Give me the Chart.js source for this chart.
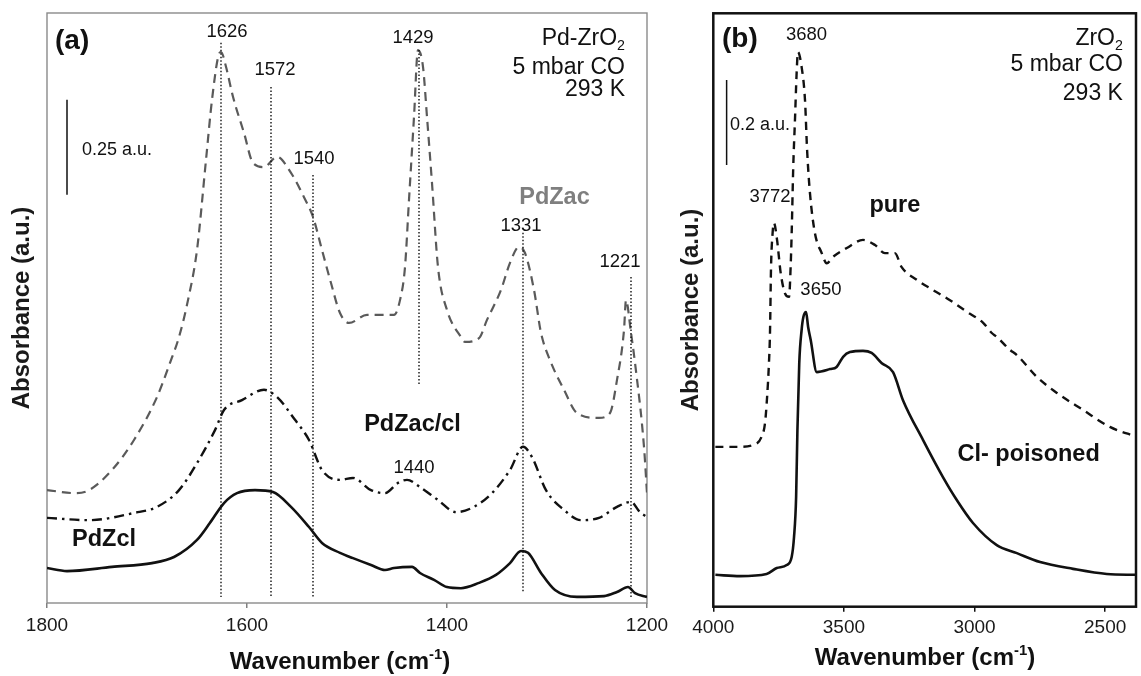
<!DOCTYPE html>
<html><head><meta charset="utf-8">
<script src="https://cdn.jsdelivr.net/npm/chart.js@4.4.1/dist/chart.umd.min.js"></script>
<style>
html,body{margin:0;padding:0;background:#fff;width:1141px;height:676px;overflow:hidden}
canvas{position:absolute;left:0;top:0}
</style>
</head><body>
<canvas id="ca" width="1141" height="676"></canvas>
<canvas id="cb" width="1141" height="676"></canvas>
<script>
// ---------------- DATA ----------------
// Panel (a): Pd-ZrO2, wavenumber (cm-1) and absorbance (a.u.)
const xTicksA = [1800, 1600, 1400, 1200];
const pdzacWn = [1800,1771,1758,1735,1713,1690,1677,1668,1659,1650,
                 1641,1635,1628,1626,1621,1614,1603,1594,1583,1570,
                 1556,1543,1534,1525,1516,1507,1498,1480,1453,1447,
                 1442,1438,1433,1429,1424,1420,1415,1409,1400,1386,
                 1382,1368,1360,1346,1337,1328,1322,1313,1306,1297,
                 1283,1270,1248,1237,1230,1223,1221,1216,1212,1203,
                 1200];
const pdzacAbs = [0.297,0.289,0.297,0.350,0.429,0.542,0.632,0.700,0.797,0.929,
                  1.166,1.324,1.445,1.450,1.411,1.332,1.237,1.158,1.147,1.174,
                  1.132,1.068,1.016,0.929,0.842,0.763,0.737,0.758,0.758,0.797,
                  0.884,1.061,1.279,1.455,1.411,1.279,1.105,0.884,0.771,0.700,
                  0.687,0.697,0.745,0.824,0.895,0.937,0.921,0.824,0.711,0.639,
                  0.561,0.500,0.487,0.500,0.587,0.718,0.797,0.711,0.632,0.411,
                  0.289];
const pdzaccWn = [1800,1758,1713,1690,1668,1650,1632,1623,1605,1583,
                  1570,1552,1538,1525,1507,1494,1476,1462,1449,1440,
                  1427,1409,1391,1373,1355,1337,1324,1315,1301,1283,
                  1266,1248,1230,1216,1207,1200];
const pdzaccAbs = [0.224,0.218,0.237,0.253,0.297,0.368,0.455,0.508,0.534,0.561,
                   0.542,0.482,0.429,0.350,0.324,0.329,0.297,0.289,0.316,0.324,
                   0.305,0.271,0.239,0.253,0.289,0.350,0.411,0.384,0.297,0.245,
                   0.218,0.224,0.253,0.266,0.239,0.226];
const pdzclWn = [1800,1780,1735,1695,1673,1650,1637,1623,1610,1592,
                 1574,1556,1538,1525,1507,1494,1476,1462,1453,1435,
                 1427,1413,1400,1386,1368,1351,1337,1326,1319,1306,
                 1292,1270,1243,1230,1219,1212,1200];
const pdzclAbs = [0.092,0.084,0.095,0.105,0.121,0.166,0.211,0.263,0.289,0.297,
                  0.292,0.253,0.200,0.158,0.132,0.118,0.100,0.087,0.092,0.095,
                  0.079,0.061,0.042,0.039,0.053,0.074,0.105,0.137,0.132,0.079,
                  0.034,0.016,0.018,0.029,0.042,0.026,0.016];
// band marker lines: [wavenumber, top, bottom]
const markLinesA = [[1626,1.474,0.016],[1576,1.358,0.016],[1534,1.126,0.016],
                    [1428,1.455,0.574],[1324,0.974,0.026],[1216,0.858,0.016]];
const scaleBarA = [1780, 1.324, 0.25];   // [wavenumber, top, length a.u.]

// Panel (b): ZrO2
const xTicksB = [4000, 3500, 3000, 2500];
const pureWn = [3992,3910,3848,3815,3802,3794,3787,3783,3779,3773,
                3768,3756,3742,3726,3710,3704,3700,3694,3687,3681,
                3676,3662,3649,3641,3630,3611,3585,3566,3542,3489,
                3427,3381,3343,3305,3279,3221,3159,3094,3030,2967,
                2934,2915,2864,2838,2762,2685,2585,2482,2380];
const pureAbs = [0.376,0.376,0.380,0.400,0.432,0.494,0.573,0.644,0.799,0.879,
                 0.903,0.863,0.785,0.738,0.729,0.799,0.879,1.034,1.152,1.256,
                 1.305,1.270,1.192,1.075,0.973,0.879,0.832,0.808,0.823,0.844,
                 0.863,0.851,0.832,0.832,0.799,0.769,0.745,0.721,0.694,0.668,
                 0.644,0.635,0.604,0.592,0.541,0.503,0.463,0.423,0.400];
const clWn = [3992,3898,3796,3757,3719,3700,3691,3683,3678,3671,
              3662,3655,3645,3637,3627,3604,3553,3528,3503,3477,
              3427,3394,3355,3312,3274,3197,3121,3068,3006,2915,
              2838,2749,2623,2494,2380];
const clAbs = [0.075,0.072,0.077,0.091,0.098,0.117,0.164,0.258,0.416,0.573,
               0.651,0.682,0.693,0.658,0.627,0.552,0.559,0.564,0.588,0.599,
               0.602,0.597,0.573,0.552,0.486,0.392,0.305,0.251,0.197,0.145,
               0.126,0.105,0.089,0.077,0.075];
const scaleBarB = [3949, 1.239, 0.2];

// ---------------- RENDERING ----------------
const FONT = '"Liberation Sans", Arial, Helvetica, sans-serif';
Chart.defaults.font.family = FONT;

function series(wn, ab) { return wn.map((w, i) => ({x: w, y: ab[i]})); }
function vline(w, y1, y2) { return [{x: w, y: y1}, {x: w, y: y2}]; }

function drawRich(ctx, runs, x, y, align, size, weight, color) {
  const fonts = runs.map(r => `${weight} ${r[1] ? size * 0.62 : size}px ${FONT}`);
  const widths = runs.map((r, i) => { ctx.font = fonts[i]; return ctx.measureText(r[0]).width; });
  const total = widths.reduce((a, b) => a + b, 0);
  let cx = align === 'right' ? x - total : (align === 'center' ? x - total / 2 : x);
  ctx.fillStyle = color; ctx.textBaseline = 'middle'; ctx.textAlign = 'left';
  runs.forEach((r, i) => {
    ctx.font = fonts[i];
    const dy = r[1] === 1 ? size * 0.32 : (r[1] === 2 ? -size * 0.3 : 0);
    ctx.fillText(r[0], cx, y + dy);
    cx += widths[i];
  });
}

const xTitleRuns = [['Wavenumber (cm'], ['-1', 2], [')']];

function makeDecor(cfg) {
  return {
    id: 'decor',
    beforeDatasetsDraw(chart) {
      const {ctx, chartArea: a} = chart;
      ctx.save();
      ctx.strokeStyle = cfg.frameColor; ctx.lineWidth = cfg.frameWidth;
      ctx.strokeRect(a.left, a.top, a.right - a.left, a.bottom - a.top);
      ctx.restore();
    },
    afterDraw(chart) {
      const {ctx, scales: {x, y}} = chart;
      ctx.save();
      for (const it of cfg.items) {
        drawRich(ctx, it.runs, x.getPixelForValue(it.x), y.getPixelForValue(it.y),
                 it.align || 'center', it.size, it.weight || 'normal', it.color || '#111');
      }
      drawRich(ctx, xTitleRuns, cfg.titleX, cfg.titleY, 'center', 24, 'bold', '#111');
      ctx.restore();
    }
  };
}

function lineDs(data, color, width, dash, extra) {
  return Object.assign({data, borderColor: color, borderWidth: width, borderDash: dash || [],
    pointRadius: 0, fill: false, cubicInterpolationMode: 'monotone'}, extra || {});
}

function baseOptions(p) {
  return {
    responsive: false, animation: false, devicePixelRatio: 1,
    layout: {padding: {left: p.padLeft, top: p.top, right: 1141 - p.right, bottom: 0}},
    plugins: {legend: {display: false}, tooltip: {enabled: false}, title: {display: false}},
    scales: {
      x: {
        type: 'linear', reverse: true, min: p.xmin, max: p.xmax,
        afterBuildTicks: s => { s.ticks = p.ticks.map(v => ({value: v})); },
        afterFit: s => { s.height = 676 - p.bottom; },
        grid: {display: true, drawOnChartArea: false, drawTicks: true, tickLength: 5,
               color: p.tickColor, lineWidth: 1.5},
        border: {display: false},
        ticks: {font: {size: 19}, color: '#1a1a1a', padding: p.tickPad, maxRotation: 0,
                autoSkip: false, callback: v => String(v)}
      },
      y: {
        min: 0, max: p.ymax,
        afterFit: s => { s.width = p.left - p.padLeft; },
        ticks: {display: false}, grid: {display: false}, border: {display: false},
        title: {display: true, text: 'Absorbance (a.u.)', color: '#1a1a1a',
                font: {size: 24, weight: 'bold'}, padding: {top: p.ytPad, bottom: 0}}
      }
    }
  };
}

// ---- Panel (a)
const dsA = [];
markLinesA.forEach(m => dsA.push(lineDs(vline(m[0], m[1], m[2]), '#111', 1.4, [1.5, 2],
  {tension: 0, cubicInterpolationMode: 'default'})));
dsA.push(lineDs(vline(scaleBarA[0], scaleBarA[1], scaleBarA[1] - scaleBarA[2]), '#111', 1.5, [],
  {tension: 0, cubicInterpolationMode: 'default'}));
dsA.push(lineDs(series(pdzclWn, pdzclAbs), '#111', 2.6));
dsA.push(lineDs(series(pdzaccWn, pdzaccAbs), '#111', 2.4, [10, 5, 2.5, 5]));
dsA.push(lineDs(series(pdzacWn, pdzacAbs), '#5a5a5a', 2.2, [9, 6]));

const itemsA = [
  {runs: [['(a)']], x: 1792, y: 1.479, align: 'left', size: 28, weight: 'bold'},
  {runs: [['1626']], x: 1620, y: 1.503, size: 18.5},
  {runs: [['1572']], x: 1572, y: 1.403, size: 18.5},
  {runs: [['1540']], x: 1533, y: 1.168, size: 18.5},
  {runs: [['1429']], x: 1434, y: 1.488, size: 18.5},
  {runs: [['1331']], x: 1326, y: 0.992, size: 18.5},
  {runs: [['1221']], x: 1227, y: 0.897, size: 18.5},
  {runs: [['1440']], x: 1433, y: 0.355, size: 18.5},
  {runs: [['0.25 a.u.']], x: 1730, y: 1.193, size: 18},
  {runs: [['PdZac']], x: 1292.5, y: 1.068, size: 23.5, weight: 'bold', color: '#7f7f7f'},
  {runs: [['PdZac/cl']], x: 1434.5, y: 0.471, size: 23.5, weight: 'bold'},
  {runs: [['PdZcl']], x: 1743, y: 0.166, size: 23.5, weight: 'bold'},
  {runs: [['Pd-ZrO'], ['2', 1]], x: 1222, y: 1.486, align: 'right', size: 23},
  {runs: [['5 mbar CO']], x: 1222, y: 1.408, align: 'right', size: 23},
  {runs: [['293 K']], x: 1222, y: 1.350, align: 'right', size: 23}
];

new Chart(document.getElementById('ca'), {
  type: 'line',
  data: {datasets: dsA},
  options: baseOptions({padLeft: 0, left: 47, top: 13, right: 647, bottom: 603,
    xmin: 1200, xmax: 1800, ticks: xTicksA, ymax: 1.5526, tickColor: '#808080',
    tickPad: 6, ytPad: 7.6}),
  plugins: [makeDecor({frameColor: '#8a8a8a', frameWidth: 1.4, items: itemsA, titleX: 340, titleY: 662})]
});

// ---- Panel (b)
const dsB = [];
dsB.push(lineDs(vline(scaleBarB[0], scaleBarB[1], scaleBarB[1] - scaleBarB[2]), '#111', 1.5, [],
  {tension: 0, cubicInterpolationMode: 'default'}));
dsB.push(lineDs(series(clWn, clAbs), '#111', 2.6));
dsB.push(lineDs(series(pureWn, pureAbs), '#111', 2.4, [8, 6]));

const itemsB = [
  {runs: [['(b)']], x: 3966.7, y: 1.336, align: 'left', size: 28, weight: 'bold'},
  {runs: [['3680']], x: 3643, y: 1.345, size: 18.5},
  {runs: [['0.2 a.u.']], x: 3936, y: 1.133, align: 'left', size: 18},
  {runs: [['3772']], x: 3783, y: 0.964, size: 18.5},
  {runs: [['3650']], x: 3588, y: 0.745, size: 18.5},
  {runs: [['pure']], x: 3305, y: 0.945, size: 23.5, weight: 'bold'},
  {runs: [['Cl- poisoned']], x: 2793, y: 0.357, size: 23.5, weight: 'bold'},
  {runs: [['ZrO'], ['2', 1]], x: 2432, y: 1.336, align: 'right', size: 23},
  {runs: [['5 mbar CO']], x: 2432, y: 1.275, align: 'right', size: 23},
  {runs: [['293 K']], x: 2432, y: 1.208, align: 'right', size: 23}
];

new Chart(document.getElementById('cb'), {
  type: 'line',
  data: {datasets: dsB},
  options: baseOptions({padLeft: 670, left: 713.3, top: 13.3, right: 1136, bottom: 606.7,
    xmin: 2382, xmax: 4000, ticks: xTicksB, ymax: 1.3962, tickColor: '#111',
    tickPad: 5, ytPad: 6.6}),
  plugins: [makeDecor({frameColor: '#111', frameWidth: 2.5, items: itemsB, titleX: 925, titleY: 658.5})]
});
</script>
</body></html>
